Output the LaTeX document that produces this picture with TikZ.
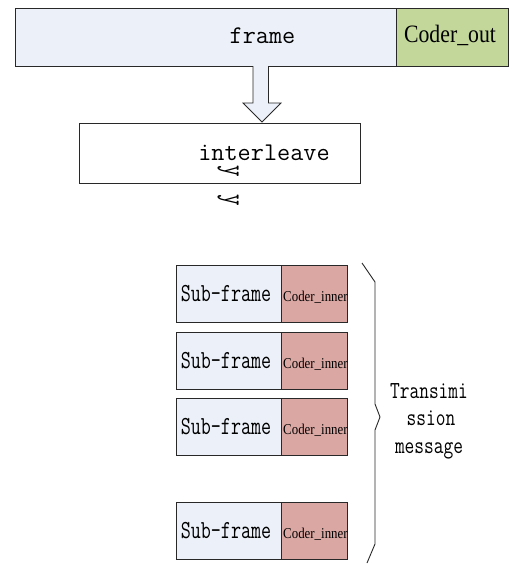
\documentclass[tikz,border=0pt]{standalone}
\usepackage{fontspec}
\setmainfont{Liberation Serif}
\definecolor{paleblue}{RGB}{236,241,249}
\definecolor{olive}{RGB}{196,215,155}
\definecolor{rose}{RGB}{219,167,163}
\definecolor{edge}{RGB}{40,40,40}

\begin{document}
\begin{tikzpicture}[x=1pt,y=-1pt,
  cell/.style={draw=edge, line width=1.1pt, inner sep=0pt, anchor=north west},
  lbl/.style={inner sep=0pt, anchor=base},
  bigmono/.style={font=\ttfamily\fontsize{25.5}{30}\selectfont},
  submono/.style={font=\ttfamily\fontsize{26}{30}\selectfont},
  msgmono/.style={font=\ttfamily\fontsize{24.5}{28}\selectfont},
  innertxt/.style={inner sep=0pt, anchor=base west, font=\fontsize{15}{17}\selectfont},
  turned/.style={rotate=-90, inner sep=0pt, font=\ttfamily\fontsize{32}{36}\selectfont},
]
\useasboundingbox (0,0) rectangle (509,565);
\fill[white] (0,0) rectangle (509,565);

% outer frame with its outer code
\node[cell, fill=paleblue, minimum width=381pt, minimum height=58pt] (frame) at (15,8) {};
\node[cell, fill=olive, minimum width=112pt, minimum height=58pt] (cout) at (396,8) {};
\node[lbl, bigmono] (frametxt) at (262.5,43) {frame};
\node[lbl, font=\fontsize{25}{30}\selectfont] (couttxt) at (450,42) {\scalebox{0.87}[1]{Coder\_out}};

% block arrow down to the interleaver
\draw[edge, line width=0.8pt, fill=paleblue]
  (253,66) -- (253,103) -- (243,103) -- (262,122) -- (281,103) -- (268.5,103) -- (268.5,66);

% interleaver
\node[cell, fill=white, minimum width=281pt, minimum height=60pt] (ilv) at (79,123) {};
\node[lbl, bigmono] (ilvtxt) at (264,160) {interleave};
\node[turned] (ya) at (228,171.5) {\scalebox{0.7}[1]{y}};
\node[turned] (yb) at (228,200) {\scalebox{0.7}[1]{y}};

% sub-frames, each with its inner code
\foreach \t/\n in {265/1, 332/2, 398/3, 502/4} {
  \node[cell, fill=paleblue, minimum width=105pt, minimum height=57pt] (sf\n) at (176,\t) {};
  \node[cell, fill=rose, minimum width=66pt, minimum height=57pt] (ci\n) at (281,\t) {};
  \node[lbl, submono] (sft\n) at (226,\t+36.5) {\scalebox{0.75}[1]{Sub-frame}};
  \node[innertxt] (cit\n) at (283,\t+36.5) {\scalebox{0.86}[1]{Coder\_inner}};
}

% brace grouping the sub-frames
\draw[edge, line width=0.9pt]
  (362,263) -- (375,282) -- (375,404) -- (380,417) -- (375,430) -- (375,544) -- (367,563);

\node[lbl, msgmono] (msg1) at (429,398) {\scalebox{0.77}[1]{Transimi}};
\node[lbl, msgmono] (msg2) at (431,425) {\scalebox{0.77}[1]{ssion}};
\node[lbl, msgmono] (msg3) at (429,453) {\scalebox{0.77}[1]{message}};
\end{tikzpicture}
\end{document}
